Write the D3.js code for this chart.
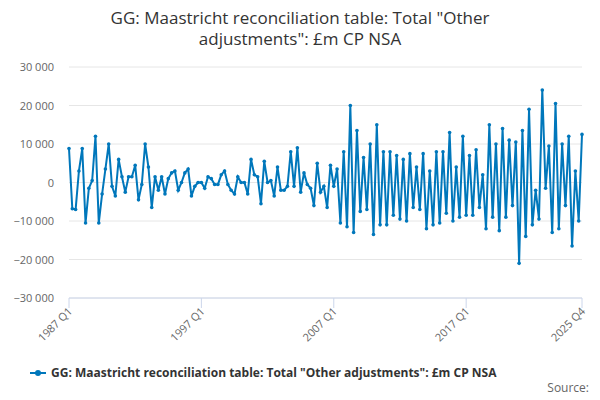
<!DOCTYPE html>
<html><head><meta charset="utf-8">
<script src="https://cdn.jsdelivr.net/npm/d3@7"></script>
<style>body{margin:0;font-family:"Open Sans",sans-serif;background:#fff}</style>
</head><body><div id="chart"></div>
<script>
var startYear = 1987, endYear = 2025;
var tickLabels = ["1987 Q1", "1997 Q1", "2007 Q1", "2017 Q1", "2025 Q4"];
var yTicks = [-30000, -20000, -10000, 0, 10000, 20000, 30000];
var values1987 = [8800, -6800, -7000, 3000, 8800, -10500, -1500, 500, 12000, -10500, -3000, 3500, 10000, -1000, -3500, 6000, 1500, -2500, 1500, 1500, 4500, -4500, -500, 10000, 4000, -6500, 1500, -2000, 1500, -3000, 1000, 2500, 3000, -2000, 0, 2500, 3500, -3500, -1000, 0];
var values1997 = [0, -1500, 1500, 1000, -500, -500, 2000, 3000, -500, -2000, -3000, 1500, 0, 0, -3000, 6000, 2000, 1500, -5500, 5500, 0, 500, -3500, 4000, -2000, -2000, -1000, 8000, -1000, 9000, -2500, 2500, -500, -1500, -6000, 5000, -2500, -1000, -6500, 4500];
var values2007 = [-1000, 3500, -10500, 8000, -11500, 20000, -13000, 13500, -7500, 6500, -7000, 10000, -13500, 15000, -11000, 8000, -11000, 8000, -8500, 7000, -9500, 6000, -10000, 7500, -6500, 4000, -7000, 7500, -12000, 3000, -11000, 8000, -10500, 8000, -8000, 13000, -10000, 4000, -9000, 12000];
var values2017 = [-8500, 7000, -8500, 8500, -6500, 2000, -12000, 15000, -9000, 10000, -12500, 14000, -9000, 11000, -6000, 10500, -21000, 13500, -14000, 19000, -11000, -2000, -9500, 24000, -1500, 9500, -13000, 20500, -12000, 10000, -6000, 12000, -16500, 3000, -10000, 12500];
var values = values1987.concat(values1997, values2007, values2017);

var quarters = [];
for (var y = startYear; y <= endYear; y++) for (var q = 1; q <= 4; q++) quarters.push(y + " Q" + q);
var data = quarters.map(function(d, i) { return {q: d, v: values[i]}; });

var W = 600, H = 400, m = {l: 69, r: 18, t: 67, b: 102};
var svg = d3.select("#chart").append("svg").attr("width", W).attr("height", H);

svg.append("text").attr("x", W / 2).attr("y", 24).attr("text-anchor", "middle")
  .attr("font-size", 17).attr("fill", "#333").text('GG: Maastricht reconciliation table: Total "Other');
svg.append("text").attr("x", W / 2).attr("y", 45).attr("text-anchor", "middle")
  .attr("font-size", 17).attr("fill", "#333").text('adjustments": £m CP NSA');

var x = d3.scalePoint().domain(quarters).range([m.l, W - m.r]);
var yS = d3.scaleLinear().domain([-30000, 30000]).range([H - m.b, m.t]);
var fmt = function(d) { return d3.format(",")(d).replace(/,/g, " ").replace("-", "−"); };

svg.append("g").selectAll("line").data(yTicks).enter().append("line")
  .attr("x1", m.l).attr("x2", W - m.r).attr("y1", yS).attr("y2", yS)
  .attr("stroke", "#e6e6e6");
svg.append("g").selectAll("text").data(yTicks).enter().append("text")
  .attr("x", m.l - 15).attr("y", function(d) { return yS(d) + 4; })
  .attr("text-anchor", "end").attr("font-size", 11).attr("fill", "#666").text(fmt);

svg.append("line").attr("x1", m.l).attr("x2", W - m.r).attr("y1", H - m.b).attr("y2", H - m.b).attr("stroke", "#ccd6eb");
var xt = svg.append("g").selectAll("g").data(tickLabels).enter().append("g")
  .attr("transform", function(d) { return "translate(" + x(d) + "," + (H - m.b) + ")"; });
xt.append("line").attr("y2", 10).attr("stroke", "#ccd6eb");
xt.append("text").attr("transform", "translate(4,14) rotate(-45)").attr("text-anchor", "end")
  .attr("font-size", 11).attr("fill", "#666").text(function(d) { return d; });

var line = d3.line().x(function(d) { return x(d.q); }).y(function(d) { return yS(d.v); });
svg.append("path").datum(data).attr("d", line).attr("fill", "none")
  .attr("stroke", "#0077bb").attr("stroke-width", 2);
svg.append("g").selectAll("circle").data(data).enter().append("circle")
  .attr("cx", function(d) { return x(d.q); }).attr("cy", function(d) { return yS(d.v); })
  .attr("r", 1.8).attr("fill", "#0077bb");

var lg = svg.append("g").attr("transform", "translate(30,373)");
lg.append("line").attr("x1", 0).attr("x2", 16).attr("stroke", "#0077bb").attr("stroke-width", 2);
lg.append("circle").attr("cx", 8).attr("r", 3).attr("fill", "#0077bb");
lg.append("text").attr("x", 21).attr("y", 4).attr("font-size", 12).attr("font-weight", "bold")
  .attr("fill", "#333").text('GG: Maastricht reconciliation table: Total "Other adjustments": £m CP NSA');
svg.append("text").attr("x", 589).attr("y", 392).attr("text-anchor", "end")
  .attr("font-size", 12).attr("fill", "#666").text("Source:");
</script></body></html>
